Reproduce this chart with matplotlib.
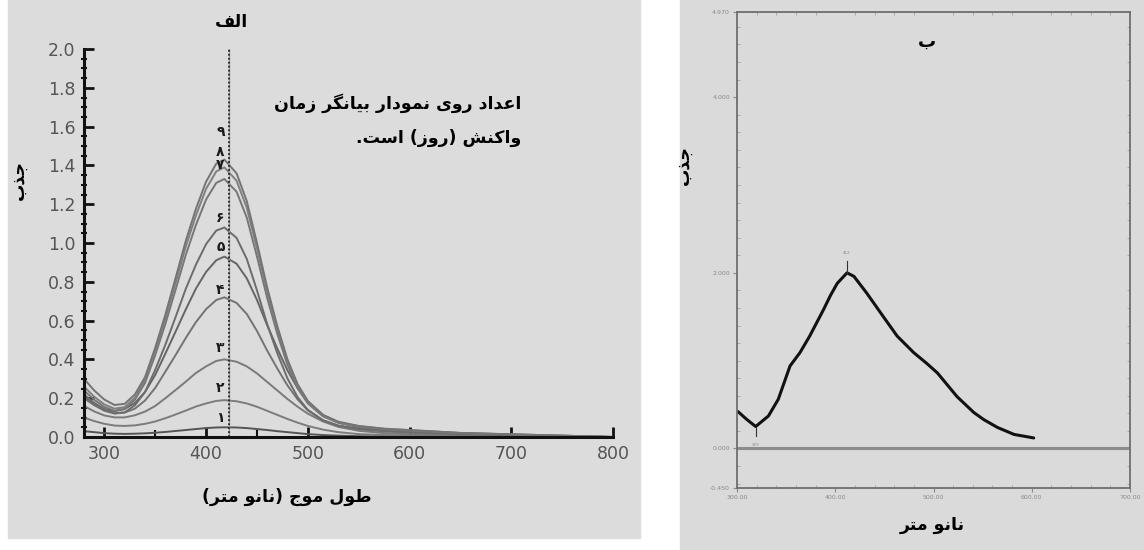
import numpy as np
import matplotlib.pyplot as plt
from matplotlib.patches import Rectangle
from matplotlib.ticker import MultipleLocator, FixedLocator

# ---- data: panel "alef" (absorbance vs wavelength, 9 reaction days) ----
wl = [280, 290, 300, 310, 320, 330, 340, 350, 360, 370, 380, 390, 400, 410, 418,
      430, 440, 450, 460, 470, 480, 490, 500, 515, 530, 550, 575, 600, 650, 700, 750, 800]

day1 = [.030, .025, .020, .017, .016, .017, .019, .022, .026, .031, .036, .041, .046, .049, .050,
        .049, .046, .041, .036, .030, .025, .020, .015, .010, .007, .004, .003, .002, .001, .001, .000, .000]
day2 = [.100, .082, .068, .059, .057, .060, .068, .080, .097, .116, .136, .157, .173, .186, .190,
        .184, .173, .156, .135, .114, .093, .074, .057, .038, .025, .015, .010, .007, .004, .002, .001, .000]
day3 = [.160, .132, .111, .101, .101, .112, .131, .160, .200, .242, .285, .330, .364, .392, .400,
        .388, .364, .328, .284, .240, .196, .156, .120, .080, .052, .032, .020, .014, .008, .004, .002, .000]
day4 = [.200, .164, .135, .121, .126, .146, .188, .253, .337, .422, .510, .592, .659, .706, .720,
        .691, .634, .547, .446, .353, .266, .194, .137, .086, .058, .040, .029, .022, .013, .007, .004, .000]
day5 = [.210, .173, .144, .133, .145, .175, .232, .320, .430, .543, .657, .765, .851, .911, .930,
        .893, .818, .707, .577, .456, .344, .251, .177, .112, .074, .051, .037, .028, .017, .009, .005, .000]
day6 = [.220, .176, .142, .122, .127, .163, .232, .346, .476, .618, .763, .888, .994, 1.064, 1.080,
        1.026, .918, .756, .583, .432, .302, .205, .140, .086, .059, .043, .032, .027, .016, .011, .005, .000]
day7 = [.240, .192, .155, .135, .144, .192, .279, .422, .583, .759, .938, 1.093, 1.224, 1.310, 1.330,
        1.264, 1.131, .931, .718, .532, .372, .253, .173, .106, .073, .053, .040, .033, .020, .013, .007, .000]
day8 = [.260, .208, .168, .146, .154, .203, .294, .442, .610, .794, .981, 1.142, 1.279, 1.369, 1.390,
        1.321, 1.182, .973, .751, .556, .389, .264, .181, .111, .076, .056, .042, .035, .021, .014, .007, .000]
day9 = [.300, .240, .193, .165, .171, .219, .309, .460, .631, .819, 1.010, 1.176, 1.316, 1.409, 1.430,
        1.359, 1.216, 1.001, .772, .572, .400, .272, .186, .114, .079, .057, .043, .036, .021, .014, .007, .000]
days = [day1, day2, day3, day4, day5, day6, day7, day8, day9]
day_labels = ['۱', '۲', '۳', '۴', '۵', '۶', '۷', '۸', '۹']
label_y = [0.10, 0.25, 0.46, 0.76, 0.98, 1.13, 1.40, 1.47, 1.57]
peak_line = 423

# ---- data: panel "be" (single spectrum) ----
wl_b = [301, 310, 319, 332, 342, 354, 364, 374, 388, 395, 402, 412, 419, 432, 449, 463, 480,
        493, 504, 524, 541, 551, 565, 582, 602]
abs_b = [0.42, 0.33, 0.25, 0.37, 0.56, 0.94, 1.09, 1.28, 1.58, 1.74, 1.88, 2.00, 1.96, 1.77, 1.50,
         1.28, 1.09, 0.97, 0.86, 0.59, 0.41, 0.33, 0.24, 0.16, 0.12]


# ---- minimal Persian shaping (matplotlib has no RTL / joining support) ----
FORMS = {
    'ا': ('\uFE8D', '\uFE8E', None, None),
    'ب': ('\uFE8F', '\uFE90', '\uFE91', '\uFE92'),
    'ت': ('\uFE95', '\uFE96', '\uFE97', '\uFE98'),
    'ج': ('\uFE9D', '\uFE9E', '\uFE9F', '\uFEA0'),
    'د': ('\uFEA9', '\uFEAA', None, None),
    'ذ': ('\uFEAB', '\uFEAC', None, None),
    'ر': ('\uFEAD', '\uFEAE', None, None),
    'ز': ('\uFEAF', '\uFEB0', None, None),
    'س': ('\uFEB1', '\uFEB2', '\uFEB3', '\uFEB4'),
    'ش': ('\uFEB5', '\uFEB6', '\uFEB7', '\uFEB8'),
    'ط': ('\uFEC1', '\uFEC2', '\uFEC3', '\uFEC4'),
    'ع': ('\uFEC9', '\uFECA', '\uFECB', '\uFECC'),
    'ف': ('\uFED1', '\uFED2', '\uFED3', '\uFED4'),
    'ل': ('\uFEDD', '\uFEDE', '\uFEDF', '\uFEE0'),
    'م': ('\uFEE1', '\uFEE2', '\uFEE3', '\uFEE4'),
    'ن': ('\uFEE5', '\uFEE6', '\uFEE7', '\uFEE8'),
    'و': ('\uFEED', '\uFEEE', None, None),
    'ک': ('\uFB8E', '\uFB8F', '\uFB90', '\uFB91'),
    'گ': ('\uFB92', '\uFB93', '\uFB94', '\uFB95'),
    'ی': ('\uFBFC', '\uFBFD', '\uFBFE', '\uFBFF'),
}


def fa(text):
    out = []
    for i, ch in enumerate(text):
        if ch not in FORMS:
            out.append(ch)
            continue
        prev = text[i - 1] if i > 0 else ''
        nxt = text[i + 1] if i + 1 < len(text) else ''
        j_prev = prev in FORMS and FORMS[prev][2] is not None
        j_next = nxt in FORMS and FORMS[ch][2] is not None
        iso, fin, ini, med = FORMS[ch]
        if j_prev and j_next:
            out.append(med)
        elif j_prev:
            out.append(fin)
        elif j_next:
            out.append(ini)
        else:
            out.append(iso)
    s = ''.join(reversed(out))
    return s.translate(str.maketrans('()', ')('))


plt.rcParams['font.family'] = ['DejaVu Sans']

fig = plt.figure(figsize=(11.44, 5.5), dpi=100)
fig.patch.set_facecolor('white')
fig.patches.append(Rectangle((8 / 1144, 12 / 550), 632 / 1144, 538 / 550,
                             transform=fig.transFigure, color='#dcdcdc', zorder=-10))
fig.patches.append(Rectangle((680 / 1144, 0), 464 / 1144, 1,
                             transform=fig.transFigure, color='#dadada', zorder=-10))

# ---- left panel ----
ax = fig.add_axes([84 / 1144, 113 / 550, 529 / 1144, 388 / 550])
ax.set_facecolor('none')
shades = ['#555555', '#7c7c7c', '#7a7a7a', '#737373', '#656565', '#6c6c6c', '#767676', '#808080', '#747474']
for vals, c in zip(days, shades):
    ax.plot(wl, vals, color=c, lw=1.4, solid_capstyle='round', solid_joinstyle='round')
ax.plot([peak_line, peak_line], [0, 2.0], color='#9a9a9a', lw=1.0)
ax.plot([peak_line, peak_line], [0, 2.0], color='#222222', lw=1.3, ls=(0, (1, 1.2)))
for lab, y in zip(day_labels, label_y):
    ax.text(414, y, lab, ha='center', va='center', fontsize=10, fontweight='bold', color='#1a1a1a')

ax.set_xlim(280, 800)
ax.set_ylim(0, 2.0)
for s in ['top', 'right']:
    ax.spines[s].set_visible(False)
for s in ['left', 'bottom']:
    ax.spines[s].set_linewidth(2.2)
    ax.spines[s].set_color('#111111')
ax.xaxis.set_major_locator(FixedLocator([300, 400, 500, 600, 700, 800]))
ax.xaxis.set_minor_locator(FixedLocator([350, 450]))
ax.yaxis.set_major_locator(MultipleLocator(0.2))
ax.yaxis.set_minor_locator(MultipleLocator(0.05))
ax.tick_params(axis='both', which='major', direction='in', length=7, width=2,
               labelsize=12.5, labelcolor='#555555', color='#111111')
ax.tick_params(axis='y', which='minor', direction='inout', length=4, width=1.5, color='#111111')
ax.tick_params(axis='x', which='minor', direction='in', length=5, width=1.5, color='#111111')
ax.tick_params(axis='x', which='major', pad=6)
ax.tick_params(axis='y', which='major', pad=6)
ax.yaxis.set_major_formatter(plt.FuncFormatter(lambda v, p: f'{v:.1f}'))

fig.text(232 / 1144, 1 - 22 / 550, fa('الف'), ha='center', va='center', fontsize=12.5, fontweight='bold')
fig.text(521 / 1144, 1 - 103 / 550, fa('اعداد روی نمودار بیانگر زمان'), ha='right', va='center',
         fontsize=12.5, fontweight='bold')
fig.text(521 / 1144, 1 - 138 / 550, fa('واکنش (روز) است.'), ha='right', va='center',
         fontsize=12.5, fontweight='bold')
fig.text(19 / 1144, 1 - 180 / 550, fa('جذب'), ha='center', va='center', rotation=90,
         fontsize=12.5, fontweight='bold')
fig.text(287 / 1144, 1 - 497 / 550, fa('طول موج (نانو متر)'), ha='center', va='center',
         fontsize=12.5, fontweight='bold')

# ---- right panel ----
bx = fig.add_axes([737 / 1144, 62 / 550, 393 / 1144, 476 / 550])
bx.set_facecolor('none')
bx.axhline(0, color='#8c8c8c', lw=2.2)
bx.plot(wl_b, abs_b, color='#111111', lw=2.2, solid_joinstyle='round', solid_capstyle='round')
bx.plot([412, 412], [2.0, 2.14], color='#333333', lw=0.8)
bx.text(412, 2.2, '412', ha='center', va='bottom', fontsize=3, color='#888888')
bx.plot([319, 319], [0.25, 0.14], color='#333333', lw=0.8)
bx.text(319, 0.02, '319', ha='center', va='bottom', fontsize=3, color='#888888')
bx.set_xlim(300, 700)
bx.set_ylim(-0.45, 4.97)
for s in bx.spines.values():
    s.set_color('#6e6e6e')
    s.set_linewidth(1.3)
bx.xaxis.set_major_locator(FixedLocator([300, 400, 500, 600, 700]))
bx.xaxis.set_minor_locator(MultipleLocator(20))
bx.yaxis.set_major_locator(FixedLocator([-0.45, 0, 2, 4, 4.97]))
bx.yaxis.set_minor_locator(MultipleLocator(0.2))
bx.tick_params(axis='both', which='major', direction='out', length=3, width=0.8, color='#8a8a8a',
               labelsize=4.5, labelcolor='#8a8a8a', pad=2)
bx.tick_params(axis='both', which='minor', direction='in', length=2, width=0.6, color='#a0a0a0',
               top=True, right=True)
bx.xaxis.set_major_formatter(plt.FuncFormatter(lambda v, p: f'{v:.2f}'))
bx.yaxis.set_major_formatter(plt.FuncFormatter(lambda v, p: f'{v:.3f}'))

fig.text(927 / 1144, 1 - 42 / 550, fa('ب'), ha='center', va='center', fontsize=13, fontweight='bold')
fig.text(684 / 1144, 1 - 165 / 550, fa('جذب'), ha='center', va='center', rotation=90,
         fontsize=12.5, fontweight='bold')
fig.text(932 / 1144, 1 - 525 / 550, fa('نانو متر'), ha='center', va='center',
         fontsize=12.5, fontweight='bold')

fig.savefig('out.png', dpi=100)
